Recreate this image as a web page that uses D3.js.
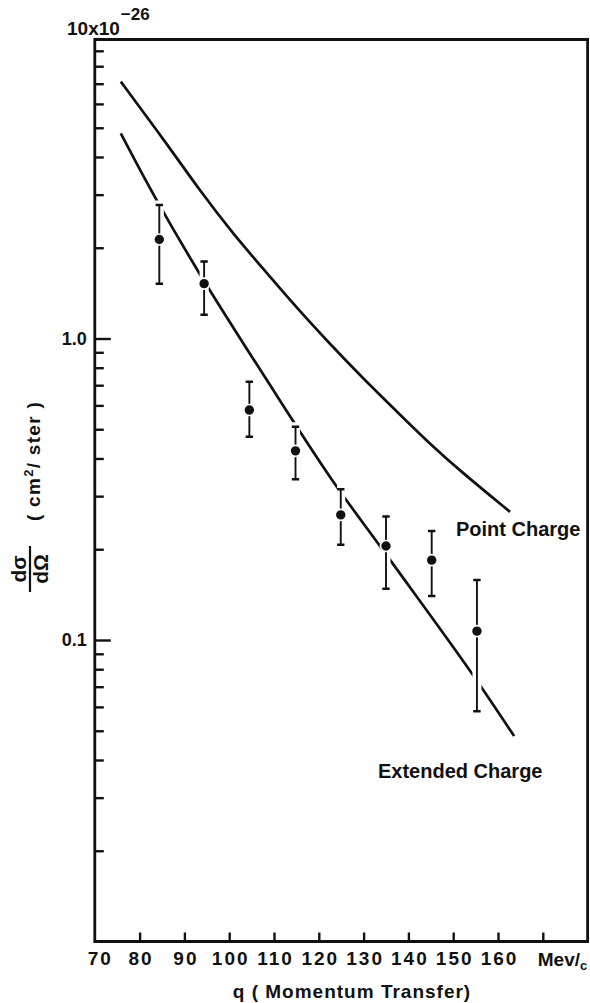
<!DOCTYPE html>
<html>
<head>
<meta charset="utf-8">
<script src="https://cdn.jsdelivr.net/npm/d3@7"></script>
<style>
  body { margin: 0; background: #fff; }
  svg text { font-family: "Liberation Sans", Arial, sans-serif; font-weight: bold; fill: #111; }
</style>
</head>
<body>
<svg id="chart" width="590" height="1003"></svg>
<script>
// axis ticks
const qTicks = [70, 80, 90, 100, 110, 120, 130, 140, 150, 160, 170];
const yMajor = [0.1, 1];
const yMinor = [0.02, 0.03, 0.04, 0.05, 0.06, 0.07, 0.08, 0.09,
                0.2, 0.3, 0.4, 0.5, 0.6, 0.7, 0.8, 0.9,
                2, 3, 4, 5, 6, 7, 8, 9];

// measured points (q in MeV/c, cross section in 10^-26 cm^2/ster)
const pointQ   = [84.4, 94.4, 104.5, 114.8, 124.9, 135.0, 145.2, 155.3];
const pointVal = [2.13, 1.52, 0.579, 0.424, 0.260, 0.205, 0.184, 0.107];
const errHigh  = [2.77, 1.80, 0.719, 0.510, 0.316, 0.257, 0.230, 0.158];
const errLow   = [1.52, 1.20, 0.472, 0.341, 0.207, 0.148, 0.140, 0.058];

// theory curves
const pointChargeQ   = [75.8, 86.1, 93.5, 100.9, 108.4, 115.1, 122.5, 129.9, 137.4, 144.8, 152.2, 162.7];
const pointChargeVal = [7.11, 4.42, 3.085, 2.22, 1.649, 1.262, 0.959, 0.737, 0.573, 0.447, 0.357, 0.266];
const extendedQ   = [75.8, 83.4, 93.3, 108.4, 123.0, 135.5, 153.9, 163.6];
const extendedVal = [4.79, 2.95, 1.65, 0.728, 0.339, 0.188, 0.0785, 0.048];

const svg = d3.select("#chart");
const ink = "#111";

const x = d3.scaleLinear().domain([70, 180]).range([94.8, 587.6]);
const y = d3.scaleLog().domain([0.01, 10]).range([941.5, 37]);

// frame
svg.append("path")
  .attr("d", `M${x(70)},${y(10) + 2.5}H${x(180)}V${y(0.01)}H${x(70)}Z`)
  .attr("fill", "none")
  .attr("stroke", ink)
  .attr("stroke-width", 2.8);

// y axis
const yMinorG = svg.append("g")
  .attr("transform", `translate(${x(70)},0)`)
  .call(d3.axisLeft(y).tickValues(yMinor).tickSize(-9).tickFormat(""));

const yMajorG = svg.append("g")
  .attr("transform", `translate(${x(70)},0)`)
  .call(d3.axisLeft(y).tickValues(yMajor).tickSize(-16).tickPadding(8)
    .tickFormat(d => d === 1 ? "1.0" : "0.1"));

// x axis
const xG = svg.append("g")
  .attr("transform", `translate(0,${y(0.01)})`)
  .call(d3.axisBottom(x).tickValues(qTicks).tickSize(-9).tickPadding(10)
    .tickFormat(d => d === 170 ? "" : d));

[yMinorG, yMajorG, xG].forEach(g => {
  g.select(".domain").remove();
  g.selectAll(".tick line").attr("stroke", ink).attr("stroke-width", 2.4);
  g.selectAll(".tick text")
    .attr("fill", ink)
    .style("font-size", "18px")
    .style("font-family", null);
});
xG.selectAll(".tick text").style("font-size", "19px").style("letter-spacing", "2px").attr("dx", 1);
xG.selectAll(".tick").filter(d => d === 70).select("line").remove();
xG.selectAll(".tick").filter(d => d === 70).select("text").attr("dx", 5);

// units at the 170 tick
const units = svg.append("text")
  .attr("x", x(170) - 5)
  .attr("y", y(0.01) + 24)
  .style("font-size", "19px");
units.append("tspan").text("Mev/");
units.append("tspan").attr("dy", 4).style("font-size", "13px").text("c");

svg.append("text")
  .attr("x", 352)
  .attr("y", 998)
  .attr("text-anchor", "middle")
  .style("font-size", "19px")
  .style("letter-spacing", "1px")
  .text("q ( Momentum Transfer)");

// scale factor at top
const scaleLabel = svg.append("text")
  .attr("x", 67)
  .attr("y", 35)
  .style("font-size", "19px");
scaleLabel.append("tspan").text("10x10");
scaleLabel.append("tspan").attr("dy", -15).attr("dx", 1).style("font-size", "17px").text("−26");

// y title
const frac = svg.append("g").attr("transform", "translate(30,569) rotate(-90)");
frac.append("line").attr("x1", -23).attr("x2", 23).attr("stroke", ink).attr("stroke-width", 2.2);
frac.append("text").attr("y", -4).attr("text-anchor", "middle").style("font-size", "21px").text("dσ");
frac.append("text").attr("y", 18).attr("text-anchor", "middle").style("font-size", "21px").text("dΩ");

const unitTitle = svg.append("text")
  .attr("transform", "translate(40,461) rotate(-90)")
  .attr("text-anchor", "middle")
  .style("font-size", "19px")
  .style("letter-spacing", "1.3px");
unitTitle.append("tspan").text("( cm");
unitTitle.append("tspan").attr("dy", -7).style("font-size", "13px").text("2");
unitTitle.append("tspan").attr("dy", 7).text("/ ster )");

// curves
const line = d3.line()
  .x(d => x(d[0]))
  .y(d => y(d[1]));

svg.append("path")
  .datum(d3.zip(pointChargeQ, pointChargeVal))
  .attr("d", line.curve(d3.curveBasis))
  .attr("fill", "none")
  .attr("stroke", ink)
  .attr("stroke-width", 2.7);

svg.append("path")
  .datum(d3.zip(extendedQ, extendedVal))
  .attr("d", line.curve(d3.curveCatmullRom))
  .attr("fill", "none")
  .attr("stroke", ink)
  .attr("stroke-width", 2.7);

// data points with error bars (white halo breaks the curve like the original)
const pts = pointQ.map((q, i) => ({ q, v: pointVal[i], hi: errHigh[i], lo: errLow[i] }));
const capW = 3.7;
const barPath = d => {
  const cx = x(d.q);
  return `M${cx},${y(d.hi)}V${y(d.lo)}` +
         `M${cx - capW},${y(d.hi)}H${cx + capW}` +
         `M${cx - capW},${y(d.lo)}H${cx + capW}`;
};

const pg = svg.append("g").selectAll("g").data(pts).join("g");
pg.append("path").attr("d", barPath)
  .attr("fill", "none").attr("stroke", "#fff").attr("stroke-width", 9);
pg.append("path")
  .attr("d", d => `M${x(d.q)},${y(d.hi)}V${y(d.lo)}`)
  .attr("stroke", ink).attr("stroke-width", 1.9);
pg.append("path")
  .attr("d", d => `M${x(d.q) - capW},${y(d.hi)}H${x(d.q) + capW}M${x(d.q) - capW},${y(d.lo)}H${x(d.q) + capW}`)
  .attr("stroke", ink).attr("stroke-width", 2.5);
pg.append("circle")
  .attr("cx", d => x(d.q))
  .attr("cy", d => y(d.v))
  .attr("r", 5.5)
  .attr("fill", ink)
  .attr("stroke", "#fff")
  .attr("stroke-width", 1.6);

// curve labels
svg.append("text").attr("x", 456).attr("y", 536).style("font-size", "20px").text("Point Charge");
svg.append("text").attr("x", 378).attr("y", 778).style("font-size", "20px").text("Extended Charge");
</script>
</body>
</html>
